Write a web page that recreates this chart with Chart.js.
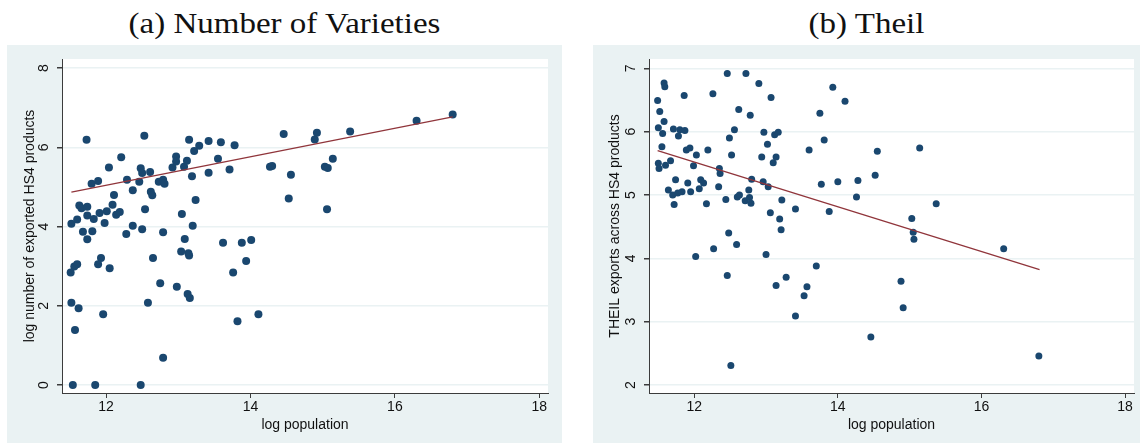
<!DOCTYPE html>
<html>
<head>
<meta charset="utf-8">
<script src="https://cdn.jsdelivr.net/npm/chart.js@4/dist/chart.umd.min.js"></script>
<style>
  body { margin: 0; background: #fff; width: 1143px; height: 445px; position: relative; overflow: hidden; }
  .panel { position: absolute; top: 45px; height: 398px; background: #eaf2f3; }
  .title { position: absolute; top: 3px; height: 40px; line-height: 40px; text-align: center;
           font-family: "Liberation Serif", serif; font-size: 30px; color: #111; transform: scaleX(1.1); }
</style>
</head>
<body>
<div class="title" style="left:7px;width:555px;">(a) Number of Varieties</div>
<div class="title" style="left:593px;width:547px;">(b) Theil</div>
<div class="panel" style="left:7px;width:555px;"><canvas id="chartA" width="555" height="398"></canvas></div>
<div class="panel" style="left:593px;width:547px;"><canvas id="chartB" width="547" height="398"></canvas></div>
<script>
// (a) log population vs log number of exported HS4 products
const popA = [11.52, 11.60, 11.63, 11.66, 11.73, 11.74, 11.74, 11.80, 11.83, 11.89, 11.91, 11.98, 12.01, 12.04, 12.09,
  12.11, 12.14, 12.19, 12.21, 12.29, 12.37, 12.46, 12.48, 12.50, 12.53, 12.54, 12.61, 12.62, 12.64, 12.73, 12.79,
  12.81, 12.92, 12.97, 12.97, 13.05, 13.08, 13.12, 13.15, 13.19, 13.22, 13.24, 13.29, 13.42, 13.42, 13.55, 13.59,
  13.71, 13.78, 14.27, 14.30, 14.46, 14.53, 14.56, 11.68, 11.74, 11.81, 12.28, 12.37, 12.50, 12.79, 13.20, 13.09,
  13.62, 13.88, 14.01, 13.94, 13.76, 11.51, 11.56, 11.60, 11.93, 11.89, 12.05, 12.65, 13.04, 13.14, 13.15, 12.75,
  12.98, 13.13, 13.16, 11.52, 11.62, 12.58, 11.96, 11.57, 13.82, 14.11, 12.79, 11.54, 11.85, 12.48, 14.92, 14.89,
  15.38, 16.30, 16.80, 15.14, 15.03, 15.07, 15.06];
const varietiesA = [4.07, 4.18, 4.53, 4.46, 6.19, 4.50, 4.28, 5.08, 4.19, 5.15, 4.34, 4.09, 4.39, 5.49, 4.55,
  4.80, 4.30, 4.37, 5.75, 5.18, 4.92, 5.13, 5.47, 5.35, 6.29, 4.44, 5.38, 4.88, 4.79, 5.13, 5.18,
  5.08, 5.49, 5.77, 5.64, 4.32, 5.51, 5.66, 6.19, 5.27, 5.91, 4.67, 6.04, 6.16, 5.36, 5.71, 6.13,
  5.44, 6.05, 5.51, 5.53, 6.34, 4.71, 5.31, 3.87, 3.68, 3.88, 3.81, 4.02, 3.93, 3.86, 4.02, 3.69,
  3.59, 3.59, 3.66, 3.13, 2.84, 2.84, 2.99, 3.05, 3.21, 3.05, 2.95, 3.21, 3.37, 3.33, 3.27, 2.57,
  2.48, 2.30, 2.20, 2.08, 1.94, 2.08, 1.79, 1.39, 1.61, 1.79, 0.69, 0, 0, 0, 6.37, 6.20,
  6.40, 6.67, 6.83, 5.71, 5.51, 5.48, 4.44];
const fitXA = [11.52, 16.80];
const fitYA = [4.87, 6.77];

// (b) log population vs THEIL exports across HS4 products
const popB = [11.49, 11.52, 11.50, 11.58, 11.59, 11.58, 11.56, 11.55, 11.50, 11.51, 11.60, 11.67, 11.64, 11.71, 11.86,
  11.80, 11.87, 11.78, 11.74, 11.70, 11.72, 11.77, 11.83, 11.91, 11.95, 11.89, 11.94, 12.03, 11.99, 12.07, 12.09,
  12.13, 12.17, 12.19, 12.26, 12.35, 12.36, 12.34, 12.46, 12.49, 12.56, 12.52, 12.44, 12.60, 12.63, 12.62, 12.48,
  12.72, 12.78, 12.80, 12.76, 12.71, 12.77, 12.79, 12.90, 12.94, 12.97, 12.96, 13.02, 13.03, 13.07, 13.06, 13.10,
  13.12, 13.14, 13.17, 13.22, 13.19, 13.21, 13.41, 13.60, 13.75, 13.81, 13.77, 13.88, 13.93, 14.00, 14.10, 14.26,
  14.28, 14.52, 14.55, 12.27, 12.59, 12.02, 13.00, 12.46, 13.14, 13.28, 13.70, 13.57, 13.53, 13.41, 14.46, 12.51,
  15.14, 15.37, 15.03, 15.05, 15.06, 16.31, 14.88, 14.91, 16.80];
const theilB = [6.49, 6.32, 6.06, 6.77, 6.71, 6.16, 5.97, 5.76, 5.50, 5.42, 5.47, 5.54, 5.08, 6.04, 6.57,
  6.03, 6.02, 5.93, 5.24, 5.00, 4.85, 5.03, 5.05, 5.19, 5.05, 5.71, 5.74, 5.63, 5.46, 5.10, 5.24,
  5.19, 4.86, 5.71, 6.60, 5.42, 5.34, 5.13, 6.92, 5.90, 6.03, 5.63, 4.93, 4.97, 5.00, 6.35, 4.40,
  6.92, 6.26, 5.25, 5.08, 4.91, 4.96, 4.87, 6.76, 5.60, 5.99, 5.21, 5.80, 5.13, 6.54, 4.72, 5.51,
  5.95, 5.60, 5.99, 4.92, 4.62, 4.45, 4.78, 5.71, 6.29, 5.87, 5.17, 4.74, 6.70, 5.21, 6.48, 4.97,
  5.23, 5.31, 5.69, 4.15, 4.22, 4.03, 4.06, 3.73, 3.57, 3.70, 3.88, 3.55, 3.41, 3.09, 2.76, 2.31,
  5.74, 4.86, 4.63, 4.41, 4.30, 4.15, 3.64, 3.22, 2.46];
const fitXB = [11.49, 16.81];
const fitYB = [5.70, 3.82];

const xTicks = [12, 14, 16, 18];
const yTicksA = [0, 2, 4, 6, 8];
const yTicksB = [2, 3, 4, 5, 6, 7];

const navy = '#1a476f';
const maroon = '#90353b';
const gridCol = '#eaf2f3';
const axisCol = '#3c3c3c';
const sansFont = '"Liberation Sans", Arial, sans-serif';

const zip = (xs, ys) => xs.map((x, i) => ({ x: x, y: ys[i] }));

// white plot region + rotated y labels + axis titles
const stataLook = {
  id: 'stataLook',
  beforeDraw(chart) {
    const a = chart.chartArea;
    const ctx = chart.ctx;
    ctx.save();
    ctx.fillStyle = '#ffffff';
    ctx.fillRect(a.left, a.top, a.right - a.left, a.bottom - a.top);
    ctx.restore();
  },
  afterDraw(chart, args, opts) {
    const a = chart.chartArea;
    const ctx = chart.ctx;
    const ys = chart.scales.y;
    ctx.save();
    ctx.fillStyle = '#111';
    ctx.font = '14px ' + sansFont;
    ctx.textAlign = 'center';
    ctx.textBaseline = 'middle';
    ys.ticks.forEach((t) => {
      const py = ys.getPixelForValue(t.value);
      ctx.save();
      ctx.translate(a.left - 18, py);
      ctx.rotate(-Math.PI / 2);
      ctx.fillText(String(t.value), 0, 0);
      ctx.restore();
    });
    // x title
    ctx.fillText(opts.xTitle, (a.left + a.right) / 2, a.bottom + 32);
    // y title
    ctx.save();
    ctx.translate(opts.yTitleX, (a.top + a.bottom) / 2);
    ctx.rotate(-Math.PI / 2);
    ctx.fillText(opts.yTitle, 0, 0);
    ctx.restore();
    ctx.restore();
  }
};

function makeChart(id, xs, ys, fx, fy, xMin, xMax, yMin, yMax, yTicks, radius, rightPad, yWidth, xTitle, yTitle, yTitleX) {
  return new Chart(document.getElementById(id), {
    type: 'scatter',
    data: {
      datasets: [
        {
          data: zip(fx, fy),
          showLine: true,
          borderColor: maroon,
          borderWidth: 1.3,
          pointRadius: 0,
          order: 1
        },
        {
          data: zip(xs, ys),
          backgroundColor: navy,
          borderWidth: 0,
          pointRadius: radius,
          order: 2
        }
      ]
    },
    options: {
      responsive: false,
      animation: false,
      devicePixelRatio: 1,
      layout: { padding: { top: 14, right: rightPad, left: 0, bottom: 0 } },
      plugins: {
        legend: { display: false },
        tooltip: { enabled: false },
        stataLook: { xTitle: xTitle, yTitle: yTitle, yTitleX: yTitleX }
      },
      scales: {
        x: {
          type: 'linear',
          min: xMin,
          max: xMax,
          afterBuildTicks: (s) => { s.ticks = xTicks.map((v) => ({ value: v })); },
          afterFit: (s) => { s.height = 50; },
          grid: { drawOnChartArea: false, drawTicks: true, tickLength: 5, tickColor: axisCol, color: axisCol },
          border: { display: true, color: axisCol, width: 1 },
          ticks: { color: '#111', font: { family: sansFont, size: 14 }, padding: 1, maxRotation: 0 }
        },
        y: {
          type: 'linear',
          min: yMin,
          max: yMax,
          afterBuildTicks: (s) => { s.ticks = yTicks.map((v) => ({ value: v })); },
          afterFit: (s) => { s.width = yWidth; },
          grid: { color: gridCol, lineWidth: 1.5, drawTicks: true, tickLength: 5, tickColor: axisCol },
          border: { display: true, color: axisCol, width: 1 },
          ticks: { display: false }
        }
      }
    },
    plugins: [stataLook]
  });
}

makeChart('chartA', popA, varietiesA, fitXA, fitYA, 11.39, 18.12, -0.2, 8.23, yTicksA, 4, 14, 55,
  'log population', 'log number of exported HS4 products', 23);
makeChart('chartB', popB, theilB, fitXB, fitYB, 11.37, 18.125, 1.874, 7.147, yTicksB, 3.5, 6, 56,
  'log population', 'THEIL exports across HS4 products', 22);
</script>
</body>
</html>
